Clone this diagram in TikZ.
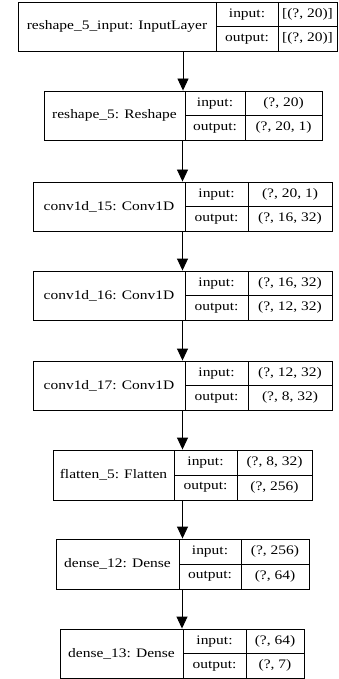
\documentclass[tikz,border=0pt]{standalone}
\usepackage{fontspec}
\setmainfont{Liberation Serif}[FakeStretch=1.19]
\usetikzlibrary{arrows.meta}

\begin{document}
\begin{tikzpicture}[x=1pt,y=-1pt,line width=0.9pt,
	box/.style={draw,inner sep=0pt},
	txt/.style={inner sep=0pt,font=\fontsize{13}{16}\selectfont},
	flow/.style={-{Triangle[width=11pt,length=12pt]}}]
	\useasboundingbox (0,0) rectangle (339,679);
	% Boxes
	\node[box,minimum width=319pt,minimum height=49pt] (input) at (177.5,26.5) {};
	\node[box,minimum width=278pt,minimum height=49pt] (reshape) at (183,115.5) {};
	\node[box,minimum width=299pt,minimum height=49pt] (conva) at (182.5,206.5) {};
	\node[box,minimum width=299pt,minimum height=49pt] (convb) at (182.5,295.5) {};
	\node[box,minimum width=299pt,minimum height=49pt] (convc) at (182.5,385.5) {};
	\node[box,minimum width=259pt,minimum height=50pt] (flatten) at (182.5,475) {};
	\node[box,minimum width=253pt,minimum height=50pt] (densea) at (182.5,564) {};
	\node[box,minimum width=244pt,minimum height=49pt] (denseb) at (182,653.5) {};
	% Cell lines
	\draw (216,2) -- (216,51) (278,2) -- (278,51) (216,26.5) -- (337,26.5);
	\draw (185,91) -- (185,140) (245,91) -- (245,140) (185,115.5) -- (322,115.5);
	\draw (185,182) -- (185,231) (248,182) -- (248,231) (185,206.5) -- (332,206.5);
	\draw (185,271) -- (185,320) (248,271) -- (248,320) (185,295.5) -- (332,295.5);
	\draw (185,361) -- (185,410) (248,361) -- (248,410) (185,385.5) -- (332,385.5);
	\draw (174,450) -- (174,500) (237,450) -- (237,500) (174,475) -- (312,475);
	\draw (179,539) -- (179,589) (241,539) -- (241,589) (179,564) -- (309,564);
	\draw (183,629) -- (183,678) (246,629) -- (246,678) (183,653.5) -- (304,653.5);
	% Arrows
	\draw[flow] (input.south -| reshape.north) -- (reshape.north);
	\draw[flow] (reshape.south -| conva.north) -- (conva.north);
	\draw[flow] (conva) -- (convb);
	\draw[flow] (convb) -- (convc);
	\draw[flow] (convc.south) -- (flatten.north);
	\draw[flow] (flatten.south) -- (densea.north);
	\draw[flow] (densea.south -| denseb.north) -- (denseb.north);
	% Labels
	\node[txt] (inputname) at (117,26.5) {reshape\_5\_input: InputLayer};
	\node[txt] (inputin) at (247,14.25) {input:};
	\node[txt] (inputinval) at (307.5,14.25) {[(?, 20)]};
	\node[txt] (inputout) at (247,38.75) {output:};
	\node[txt] (inputoutval) at (307.5,38.75) {[(?, 20)]};
	\node[txt] (reshapename) at (114.5,115.5) {reshape\_5: Reshape};
	\node[txt] (reshapein) at (215,103.25) {input:};
	\node[txt] (reshapeinval) at (283.5,103.25) {(?, 20)};
	\node[txt] (reshapeout) at (215,127.75) {output:};
	\node[txt] (reshapeoutval) at (283.5,127.75) {(?, 20, 1)};
	\node[txt] (convaname) at (109,206.5) {conv1d\_15: Conv1D};
	\node[txt] (convain) at (216.5,194.25) {input:};
	\node[txt] (convainval) at (290,194.25) {(?, 20, 1)};
	\node[txt] (convaout) at (216.5,218.75) {output:};
	\node[txt] (convaoutval) at (290,218.75) {(?, 16, 32)};
	\node[txt] (convbname) at (109,295.5) {conv1d\_16: Conv1D};
	\node[txt] (convbin) at (216.5,283.25) {input:};
	\node[txt] (convbinval) at (290,283.25) {(?, 16, 32)};
	\node[txt] (convbout) at (216.5,307.75) {output:};
	\node[txt] (convboutval) at (290,307.75) {(?, 12, 32)};
	\node[txt] (convcname) at (109,385.5) {conv1d\_17: Conv1D};
	\node[txt] (convcin) at (216.5,373.25) {input:};
	\node[txt] (convcinval) at (290,373.25) {(?, 12, 32)};
	\node[txt] (convcout) at (216.5,397.75) {output:};
	\node[txt] (convcoutval) at (290,397.75) {(?, 8, 32)};
	\node[txt] (flattenname) at (113.5,475) {flatten\_5: Flatten};
	\node[txt] (flattenin) at (205.5,462.5) {input:};
	\node[txt] (flatteninval) at (274.5,462.5) {(?, 8, 32)};
	\node[txt] (flattenout) at (205.5,487.5) {output:};
	\node[txt] (flattenoutval) at (274.5,487.5) {(?, 256)};
	\node[txt] (denseaname) at (117.5,564) {dense\_12: Dense};
	\node[txt] (denseain) at (210,551.5) {input:};
	\node[txt] (denseainval) at (275,551.5) {(?, 256)};
	\node[txt] (denseaout) at (210,576.5) {output:};
	\node[txt] (denseaoutval) at (275,576.5) {(?, 64)};
	\node[txt] (densebname) at (121.5,653.5) {dense\_13: Dense};
	\node[txt] (densebin) at (214.5,641.25) {input:};
	\node[txt] (densebinval) at (275,641.25) {(?, 64)};
	\node[txt] (densebout) at (214.5,665.75) {output:};
	\node[txt] (denseboutval) at (275,665.75) {(?, 7)};
\end{tikzpicture}
\end{document}
